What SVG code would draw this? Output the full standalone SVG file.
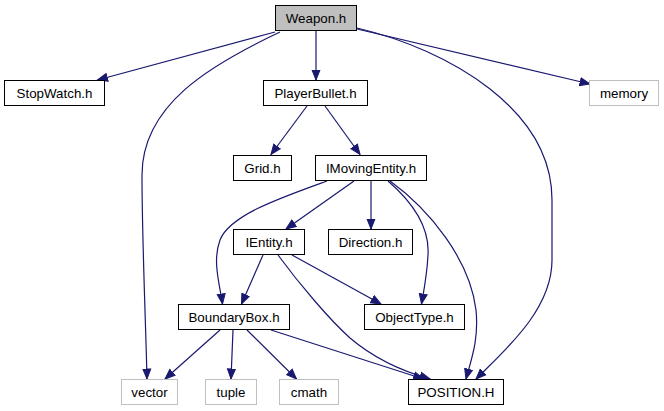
<svg xmlns="http://www.w3.org/2000/svg" width="664" height="411" viewBox="0 0 664 411">
<style>
.n rect{fill:#fff;stroke:#000;stroke-width:1}
.n.g rect{stroke:#bfbfbf}
.n.cur rect{fill:#bfbfbf}
.n text{font-family:"Liberation Sans",Arial,sans-serif;font-size:13.33px;fill:#000;text-anchor:middle}
.e path{fill:none;stroke:#191970;stroke-width:1.2;marker-end:url(#ah)}
</style>
<defs>
<marker id="ah" markerUnits="userSpaceOnUse" markerWidth="12" markerHeight="10" refX="10.5" refY="4.5" orient="auto" viewBox="0 0 12 9">
<path d="M0.5,0.5 L10.5,4.5 L0.5,8.5 z" fill="#191970" stroke="#191970" stroke-width="1"/>
</marker>
</defs>
<rect width="664" height="411" fill="#fff"/>
<g id="edges" class="e">
<path d="M275,32 L97.5,80"/>
<path d="M280,32 C210,65 142,105 142,175 C142,240 146,330 147,379"/>
<path d="M316,31 L316,80"/>
<path d="M357,29 L590,84"/>
<path d="M357,28 C450,50 552,110 552,200 L552,260 C552,310 505,350 476,379"/>
<path d="M307,106 L271,154.5"/>
<path d="M325,106 L360,154.5"/>
<path d="M354,181 L286,229"/>
<path d="M371,181 L371,229"/>
<path d="M327,181 C280,198 230,215 220,240 C212,262 220,285 222.5,304"/>
<path d="M388,181 C410,200 430,225 428,255 C427,275 424,290 421.5,304"/>
<path d="M390,181 C430,210 470,260 476,310 C479,340 471,360 466,379"/>
<path d="M263,255 L241.5,304"/>
<path d="M292,255 L381,304"/>
<path d="M278,255 C300,285 330,320 350,338 C370,355 398,370 430,379"/>
<path d="M220,330 L165,379"/>
<path d="M233,330 L231,379"/>
<path d="M247,330 L296.5,379"/>
<path d="M271,330 L423.5,379"/>
</g>
<g id="n_weapon" class="n cur"><rect x="275.5" y="5.5" width="81" height="25"/><text x="316" y="22.5">Weapon.h</text></g>
<g id="n_stopwatch" class="n"><rect x="4.5" y="80.5" width="100" height="25"/><text x="54.5" y="97.5">StopWatch.h</text></g>
<g id="n_playerbullet" class="n"><rect x="263.5" y="80.5" width="104" height="25"/><text x="315.5" y="97.5">PlayerBullet.h</text></g>
<g id="n_memory" class="n g"><rect x="589.5" y="80.5" width="69" height="25"/><text x="624" y="97.5">memory</text></g>
<g id="n_grid" class="n"><rect x="233.5" y="155.5" width="58" height="25"/><text x="262.5" y="172.5">Grid.h</text></g>
<g id="n_imovingentity" class="n"><rect x="315.5" y="155.5" width="111" height="25"/><text x="371" y="172.5">IMovingEntity.h</text></g>
<g id="n_ientity" class="n"><rect x="233.5" y="229.5" width="71" height="25"/><text x="269" y="246.5">IEntity.h</text></g>
<g id="n_direction" class="n"><rect x="328.5" y="229.5" width="84" height="25"/><text x="370.5" y="246.5">Direction.h</text></g>
<g id="n_boundarybox" class="n"><rect x="178.5" y="304.5" width="111" height="25"/><text x="234" y="321.5">BoundaryBox.h</text></g>
<g id="n_objecttype" class="n"><rect x="364.5" y="304.5" width="100" height="25"/><text x="414.5" y="321.5">ObjectType.h</text></g>
<g id="n_vector" class="n g"><rect x="121.5" y="379.5" width="56" height="25"/><text x="149.5" y="396.5">vector</text></g>
<g id="n_tuple" class="n g"><rect x="205.5" y="379.5" width="51" height="25"/><text x="231" y="396.5">tuple</text></g>
<g id="n_cmath" class="n g"><rect x="279.5" y="379.5" width="59" height="25"/><text x="309" y="396.5">cmath</text></g>
<g id="n_position" class="n"><rect x="408.5" y="379.5" width="95" height="25"/><text x="456" y="396.5">POSITION.H</text></g>
</svg>
